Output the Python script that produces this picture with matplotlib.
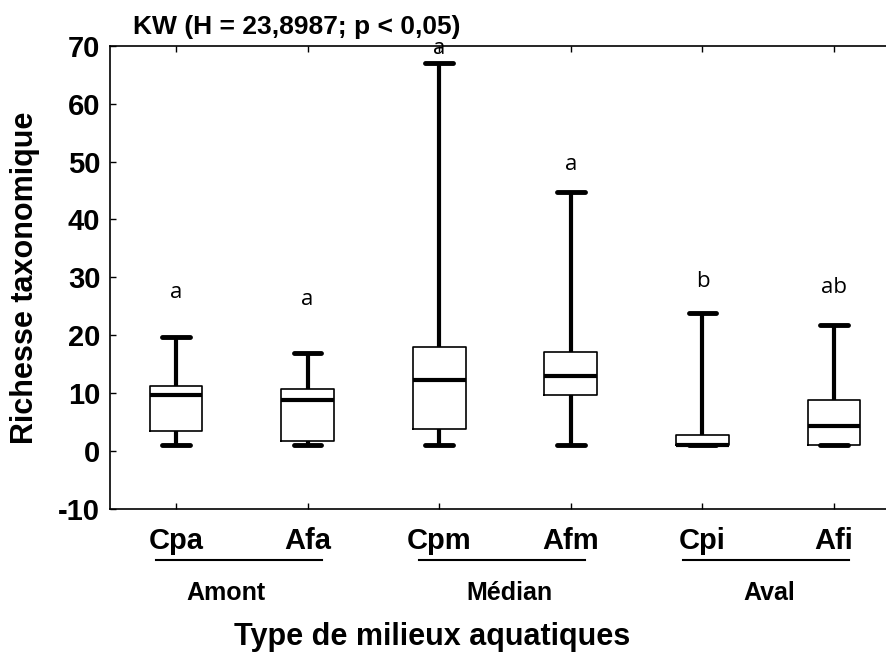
import matplotlib
matplotlib.use('Agg')
import matplotlib.pyplot as plt

plt.rcParams['font.family'] = ['Liberation Sans', 'DejaVu Sans']
plt.rcParams['axes.unicode_minus'] = False

# box statistics
sites = ['Cpa', 'Afa', 'Cpm', 'Afm', 'Cpi', 'Afi']
whis_low = [1, 1, 1, 1, 1, 1]
q1 = [3.5, 1.8, 3.8, 9.6, 1, 1]
median = [9.6, 8.8, 12.3, 12.9, 1, 4.4]
q3 = [11.3, 10.8, 18.0, 17.1, 2.8, 8.9]
whis_high = [19.7, 17.0, 67.0, 44.8, 23.8, 21.8]

# letters of the post-hoc test, and where they sit
letters = ['a', 'a', 'a', 'a', 'b', 'ab']
letter_y = [27.3, 26.1, 69.6, 49.4, 29.2, 28.3]

groups = ['Amont', 'Médian', 'Aval']
yticks = [-10, 0, 10, 20, 30, 40, 50, 60, 70]

fig = plt.figure(figsize=(8.87, 6.58), dpi=100)
# the frame runs past the right edge in the original
ax = fig.add_axes([110/887, 1 - 509/658, 790/887, 463.3/658])

pos = list(range(1, len(sites) + 1))
stats = []
for i in range(len(sites)):
    stats.append({'med': median[i], 'q1': q1[i], 'q3': q3[i],
                  'whislo': whis_low[i], 'whishi': whis_high[i], 'label': sites[i]})

ax.bxp(stats, positions=pos, widths=0.4, capwidths=0.21, showfliers=False,
       boxprops=dict(color='black', linewidth=1.2),
       whiskerprops=dict(color='black', linewidth=3.0, solid_capstyle='butt'),
       capprops=dict(color='black', linewidth=3.5, solid_capstyle='round'),
       medianprops=dict(color='black', linewidth=3.0))

for i in range(len(sites)):
    ax.text(pos[i], letter_y[i], letters[i], ha='center', va='center',
            fontsize=16, family=['Open Sans', 'DejaVu Sans'])

ax.set_xlim(0.5, 6.5)
ax.set_ylim(-10, 70)
ax.set_yticks(yticks)
ax.set_xticks(pos)
ax.set_xticklabels(sites)
ax.tick_params(axis='x', direction='in', length=4, width=1, pad=13, labelsize=21, top=True)
ax.tick_params(axis='y', direction='in', length=4, width=1, pad=7, labelsize=21)
for lab in ax.get_xticklabels() + ax.get_yticklabels():
    lab.set_fontweight('bold')
for s in ax.spines.values():
    s.set_linewidth(1.2)

# group underlines and names below the tick labels
tr = ax.get_xaxis_transform()
offsets = [-0.12, 0.03, 0.01]
for g in range(len(groups)):
    a, b = pos[2*g], pos[2*g + 1]
    ax.plot([a - 0.15, b + 0.11], [-0.110, -0.110], color='black', linewidth=1.5,
            transform=tr, clip_on=False)
    ax.text((a + b)/2 + offsets[g], -0.181, groups[g], ha='center', va='center',
            fontsize=18, fontweight='bold', transform=tr)

fig.text(133/887, 1 - 27/658, 'KW (H = 23,8987; p < 0,05)', ha='left', va='center',
         fontsize=19, fontweight='bold')
fig.text(432/887, 1 - 637/658, 'Type de milieux aquatiques', ha='center', va='center',
         fontsize=22, fontweight='bold')
fig.text(25/887, 1 - 278/658, 'Richesse taxonomique', ha='center', va='center',
         rotation=90, fontsize=22, fontweight='bold')

fig.savefig('out.png', dpi=100)
